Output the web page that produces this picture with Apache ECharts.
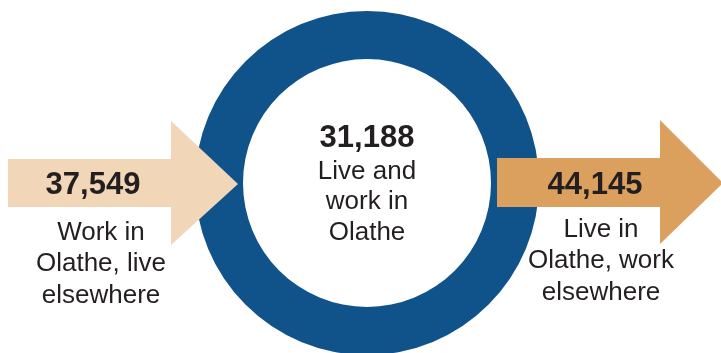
<!DOCTYPE html>
<html>
<head>
<meta charset="utf-8">
<script src="https://cdn.jsdelivr.net/npm/echarts@6/dist/echarts.min.js"></script>
<style>
html,body{margin:0;padding:0;background:#fff;}
#chart{width:721px;height:353px;}
</style>
</head>
<body>
<div id="chart"></div>
<script>
// Data
var categories = ['Live and work in Olathe', 'Work in Olathe, live elsewhere', 'Live in Olathe, work elsewhere'];
var labelLines = [['Live and', 'work in', 'Olathe'], ['Work in', 'Olathe, live', 'elsewhere'], ['Live in', 'Olathe, work', 'elsewhere']];
var values = [31188, 37549, 44145];

var colors = { ring: '#10528A', inflow: '#F1D6B8', outflow: '#DCA05E', text: '#231F20' };
var FONT = '"Liberation Sans", Arial, Helvetica, sans-serif';

function fmt(v) { return v.toLocaleString('en-US'); }

var chart = echarts.init(document.getElementById('chart'), null, { renderer: 'canvas' });

function arrow(x0, x1, xt, shaftTop, shaftBot, headTop, headBot, tipY, color) {
  return {
    type: 'polygon', z: 10, silent: true,
    shape: { points: [[x0, shaftTop], [x1, shaftTop], [x1, headTop], [xt, tipY], [x1, headBot], [x1, shaftBot], [x0, shaftBot]] },
    style: { fill: color }
  };
}
function txt(x, y, s, size, bold, lh) {
  return {
    type: 'text', z: 20, silent: true, x: x, y: y,
    style: {
      text: s, fill: colors.text, font: (bold ? 'bold ' : '') + size + 'px ' + FONT,
      align: 'center', verticalAlign: 'middle', lineHeight: lh || size
    }
  };
}

var option = {
  animation: false,
  backgroundColor: '#ffffff',
  series: [{
    type: 'pie',
    name: categories[0],
    center: [367, 183],
    radius: [124, 172],
    silent: true,
    label: { show: false },
    labelLine: { show: false },
    emphasis: { disabled: true },
    itemStyle: { color: colors.ring, borderWidth: 0 },
    data: [{ name: categories[0], value: values[0] }]
  }],
  graphic: [
    arrow(8, 171, 238, 159, 207, 121, 245, 184, colors.inflow),
    arrow(497, 660, 723, 158, 207, 120, 244, 183, colors.outflow),
    txt(367, 138, fmt(values[0]), 31, true),
    txt(367, 202, labelLines[0].join('\n'), 26, false, 30.5),
    txt(93, 185, fmt(values[1]), 31, true),
    txt(101, 264, labelLines[1].join('\n'), 26, false, 31.5),
    txt(595, 185, fmt(values[2]), 31, true),
    txt(601, 261, labelLines[2].join('\n'), 26, false, 31.5)
  ]
};
chart.setOption(option);
</script>
</body>
</html>
